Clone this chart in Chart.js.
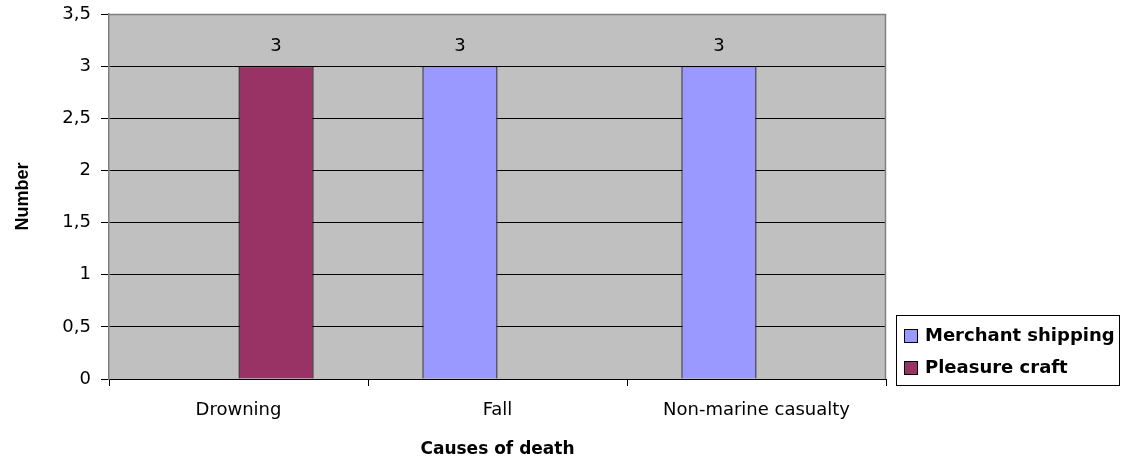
<!DOCTYPE html>
<html>
<head>
<meta charset="utf-8">
<script src="https://cdn.jsdelivr.net/npm/chart.js@4/dist/chart.umd.min.js"></script>
<style>
  html, body { margin: 0; padding: 0; background: #fff; }
  #wrap { width: 1126px; height: 466px; }
</style>
</head>
<body>
<div id="wrap"><canvas id="chart" width="1126" height="466"></canvas></div>
<script>
// data
var categories = ['Drowning', 'Fall', 'Non-marine casualty'];
var merchantShipping = [null, 3, 3];
var pleasureCraft = [3, null, null];
var seriesNames = ['Merchant shipping', 'Pleasure craft'];
var seriesColors = ['#9999FF', '#993366'];

var FONT = 'DejaVu Sans';

// gray plot area + gray border, like the old excel look
var plotBg = {
    id: 'plotBg',
    beforeDraw: function(chart){
        var a = chart.chartArea, ctx = chart.ctx;
        ctx.save();
        ctx.fillStyle = '#C0C0C0';
        ctx.fillRect(a.left, a.top, a.right - a.left, a.bottom - a.top);
        ctx.restore();
    },
    beforeDatasetsDraw: function(chart){
        var a = chart.chartArea, ctx = chart.ctx;
        ctx.save();
        ctx.strokeStyle = '#808080';
        ctx.lineWidth = 1.5;
        ctx.beginPath();
        ctx.moveTo(a.left, a.top + 0.5);
        ctx.lineTo(a.right - 0.5, a.top + 0.5);
        ctx.lineTo(a.right - 0.5, a.bottom);
        ctx.stroke();
        ctx.restore();
    }
};

// value labels on top of each bar
var valueLabels = {
    id: 'valueLabels',
    afterDatasetsDraw: function(chart){
        var ctx = chart.ctx;
        ctx.save();
        ctx.font = '18px "' + FONT + '"';
        ctx.fillStyle = '#000';
        ctx.textAlign = 'center';
        ctx.textBaseline = 'middle';
        chart.data.datasets.forEach(function(ds, i){
            var meta = chart.getDatasetMeta(i);
            meta.data.forEach(function(bar, j){
                if(ds.data[j] == null) return;
                ctx.fillText(String(ds.data[j]), bar.x, bar.y - 20);
            });
        });
        ctx.restore();
    }
};

// boxed legend at the bottom right
var boxLegend = {
    id: 'boxLegend',
    afterDraw: function(chart){
        var ctx = chart.ctx;
        var x = 896, y = 315, w = 223, h = 70;
        ctx.save();
        ctx.fillStyle = '#fff';
        ctx.fillRect(x, y, w, h);
        ctx.strokeStyle = '#000';
        ctx.lineWidth = 1;
        ctx.strokeRect(x + 0.5, y + 0.5, w, h);
        ctx.font = 'bold 18px "' + FONT + '"';
        ctx.textBaseline = 'middle';
        chart.data.datasets.forEach(function(ds, i){
            var cy = 336 + i * 32;
            ctx.fillStyle = ds.backgroundColor;
            ctx.fillRect(904.5, cy - 6.5, 13, 13);
            ctx.strokeStyle = '#000';
            ctx.strokeRect(904.5, cy - 6.5, 13, 13);
            ctx.fillStyle = '#000';
            ctx.fillText(ds.label, 925, cy);
        });
        ctx.restore();
    }
};

new Chart(document.getElementById('chart').getContext('2d'), {
    type: 'bar',
    data: {
        labels: categories,
        datasets: [{
            label: seriesNames[0],
            data: merchantShipping,
            backgroundColor: seriesColors[0],
            borderColor: '#000',
            borderWidth: 1.2
        },{
            label: seriesNames[1],
            data: pleasureCraft,
            backgroundColor: seriesColors[1],
            borderColor: '#000',
            borderWidth: 1.2
        }]
    },
    options: {
        responsive: false,
        animation: false,
        events: [],
        layout: { padding: { top: 14, right: 240, left: 0, bottom: 0 } },
        datasets: { bar: { categoryPercentage: 0.58, barPercentage: 1 } },
        plugins: {
            legend: { display: false },
            tooltip: { enabled: false }
        },
        scales: {
            x: {
                afterFit: function(s){ s.height = 87; s.paddingLeft = 0; s.paddingRight = 0; },
                grid: {
                    offset: true,
                    drawOnChartArea: false,
                    color: '#000',
                    tickLength: 7
                },
                border: { color: '#000', width: 1 },
                ticks: {
                    color: '#000',
                    padding: 14,
                    maxRotation: 0,
                    font: { family: FONT, size: 18 }
                },
                title: {
                    display: true,
                    text: 'Causes of death',
                    color: '#000',
                    padding: { top: 0, bottom: 6 },
                    font: { family: FONT, size: 17, weight: 'bold' }
                }
            },
            y: {
                min: 0,
                max: 3.5,
                afterFit: function(s){ s.width = 109; s.paddingTop = 0; s.paddingBottom = 0; },
                grid: {
                    color: '#000',
                    tickLength: 8
                },
                border: { color: '#808080', width: 1.5 },
                ticks: {
                    stepSize: 0.5,
                    color: '#000',
                    padding: 10,
                    font: { family: FONT, size: 18 },
                    callback: function(v){ return String(v).replace('.', ','); }
                },
                title: {
                    display: true,
                    text: 'Number',
                    color: '#000',
                    padding: { top: 12, bottom: 0 },
                    font: { family: '"Liberation Sans"', size: 18, weight: 'bold' }
                }
            }
        }
    },
    plugins: [plotBg, valueLabels, boxLegend]
});
</script>
</body>
</html>
